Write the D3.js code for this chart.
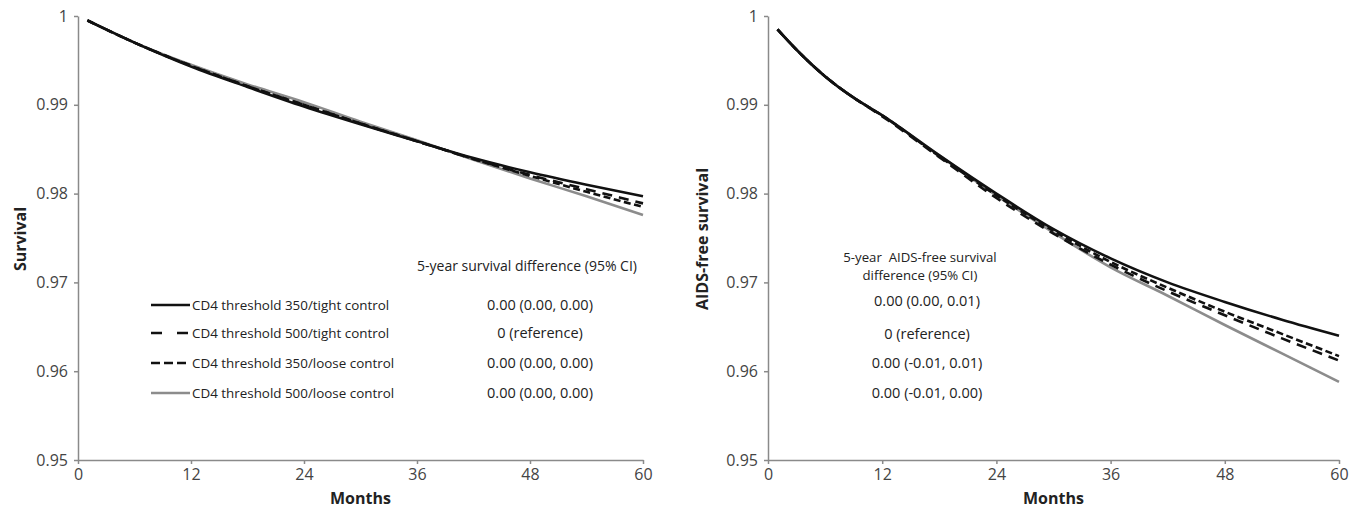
<!DOCTYPE html>
<html>
<head>
<meta charset="utf-8">
<script src="https://cdn.jsdelivr.net/npm/d3@7"></script>
<style>
  body { margin: 0; background: #fff; }
  svg { display: block; font-family: "Open Sans", sans-serif; }
  .axis path, .axis line { stroke: #8a8a8a; stroke-width: 1.5; }
  .axis text { fill: #444; font-size: 16px; font-family: "Open Sans", sans-serif; }
  .title { font-weight: bold; font-size: 16px; fill: #222; }
  .note { font-size: 13.4px; fill: #222; }
  .head { font-size: 14px; fill: #222; }
  .val { font-size: 14.5px; fill: #222; }
</style>
</head>
<body>
<div id="chart"></div>
<script>

// ---- data ----
var seriesNames = [
    "CD4 threshold 350/tight control",
    "CD4 threshold 500/tight control",
    "CD4 threshold 350/loose control",
    "CD4 threshold 500/loose control"
];

var yTicks = [0.95, 0.96, 0.97, 0.98, 0.99, 1];
var xTicks = [0, 12, 24, 36, 48, 60];

// left panel: overall survival
var survMonths = [1, 6, 12, 18, 24, 30, 36, 42, 48, 54, 60];
var surv350tight = [0.9995, 0.9970, 0.9943, 0.9920, 0.9898, 0.9878, 0.9859, 0.9840, 0.9824, 0.9810, 0.9797];
var surv500tight = [0.9995, 0.9970, 0.9944, 0.9921, 0.9900, 0.9879, 0.9859, 0.9839, 0.9821, 0.9805, 0.9789];
var surv350loose = [0.9995, 0.9970, 0.9944, 0.9921, 0.9900, 0.9879, 0.9859, 0.9839, 0.9820, 0.9802, 0.9785];
var surv500loose = [0.9995, 0.9970, 0.9945, 0.9923, 0.9903, 0.9881, 0.9860, 0.9838, 0.9817, 0.9797, 0.9776];

// right panel: AIDS-free survival
var afsMonths = [1, 3, 6, 9, 12, 18, 24, 30, 36, 42, 48, 54, 60];
var afs350tight = [0.9985, 0.9962, 0.9932, 0.9908, 0.9888, 0.9843, 0.9800, 0.9760, 0.9727, 0.9700, 0.9678, 0.9658, 0.9640];
var afs500tight = [0.9985, 0.9962, 0.9932, 0.9908, 0.9887, 0.9841, 0.9795, 0.9755, 0.9720, 0.9690, 0.9663, 0.9637, 0.9612];
var afs350loose = [0.9985, 0.9962, 0.9932, 0.9908, 0.9888, 0.9842, 0.9798, 0.9758, 0.9723, 0.9694, 0.9667, 0.9642, 0.9617];
var afs500loose = [0.9985, 0.9962, 0.9932, 0.9908, 0.9888, 0.9843, 0.9798, 0.9756, 0.9717, 0.9685, 0.9652, 0.9620, 0.9588];

var survDiffHeader = ["5-year survival difference (95% CI)"];
var survDiffs = ["0.00 (0.00, 0.00)", "0 (reference)", "0.00 (0.00, 0.00)", "0.00 (0.00, 0.00)"];
var afsDiffHeader = ["5-year  AIDS-free survival", "difference (95% CI)"];
var afsDiffs = ["0.00 (0.00, 0.01)", "0 (reference)", "0.00 (-0.01, 0.01)", "0.00 (-0.01, 0.00)"];

// line styles per series
var styles = [
    { color: "#111", dash: null, width: 2.6 },
    { color: "#111", dash: "10,7", width: 2.6 },
    { color: "#111", dash: "7,3.5", width: 2.6 },
    { color: "#8c8c8c", dash: null, width: 2.6 }
];
var legendDash = [null, "11,15", "9,4", null];

var width = 1362, height = 511;

var svg = d3.select("#chart").append("svg")
    .attr("width", width)
    .attr("height", height);

var y = d3.scaleLinear()
    .domain([0.95, 1])
    .range([460, 16]);

function drawPanel(left, right, months, series, yTitle, titleOffset) {
    var x = d3.scaleLinear().domain([0, 60]).range([left, right]);

    var xAxis = d3.axisBottom(x)
        .tickValues(xTicks)
        .tickSizeInner(4)
        .tickSizeOuter(0)
        .tickPadding(5);
    var yAxis = d3.axisLeft(y)
        .tickValues(yTicks)
        .tickSizeInner(4)
        .tickSizeOuter(0)
        .tickPadding(6)
        .tickFormat(function(d) { return d === 1 ? "1" : d3.format(".2f")(d); });

    svg.append("g")
        .attr("class", "axis")
        .attr("transform", "translate(0," + y(0.95) + ")")
        .call(xAxis);
    svg.append("g")
        .attr("class", "axis")
        .attr("transform", "translate(" + left + ",0)")
        .call(yAxis);

    var line = d3.line()
        .curve(d3.curveMonotoneX)
        .x(function(d) { return x(d[0]); })
        .y(function(d) { return y(d[1]); });

    // grey first, then dashed, then solid on top
    [3, 2, 1, 0].forEach(function(i) {
        var pts = months.map(function(m, j) { return [m, series[i][j]]; });
        svg.append("path")
            .datum(pts)
            .attr("fill", "none")
            .attr("stroke", styles[i].color)
            .attr("stroke-width", styles[i].width)
            .attr("stroke-dasharray", styles[i].dash)
            .attr("d", line);
    });

    svg.append("text")
        .attr("class", "title")
        .attr("x", (left + right) / 2)
        .attr("y", 504)
        .attr("text-anchor", "middle")
        .text("Months");

    svg.append("text")
        .attr("class", "title")
        .attr("transform", "translate(" + (left - titleOffset) + "," + 239 + ") rotate(-90)")
        .attr("text-anchor", "middle")
        .text(yTitle);

    return x;
}

drawPanel(78, 643, survMonths, [surv350tight, surv500tight, surv350loose, surv500loose], "Survival", 52);
drawPanel(768, 1339, afsMonths, [afs350tight, afs500tight, afs350loose, afs500loose], "AIDS-free survival", 60);

// legend in left panel
var rowY = [305, 333, 363, 393];
seriesNames.forEach(function(name, i) {
    svg.append("line")
        .attr("x1", 151).attr("x2", 190)
        .attr("y1", rowY[i]).attr("y2", rowY[i])
        .attr("stroke", styles[i].color)
        .attr("stroke-width", styles[i].width)
        .attr("stroke-dasharray", legendDash[i]);
    svg.append("text")
        .attr("class", "note")
        .attr("x", 192)
        .attr("y", rowY[i])
        .attr("dy", "0.35em")
        .text(name);
});

// survival differences, left panel
svg.selectAll(".surv-head")
    .data(survDiffHeader)
    .enter().append("text")
    .attr("class", "head")
    .attr("x", 527)
    .attr("y", 266)
    .attr("dy", "0.35em")
    .attr("text-anchor", "middle")
    .text(function(d) { return d; });

svg.selectAll(".surv-diff")
    .data(survDiffs)
    .enter().append("text")
    .attr("class", "val")
    .attr("x", 540)
    .attr("y", function(d, i) { return rowY[i]; })
    .attr("dy", "0.35em")
    .attr("text-anchor", "middle")
    .text(function(d) { return d; });

// AIDS-free survival differences, right panel
var afsHeadY = [257, 275];
var afsRowY = [301, 334, 363, 393];

svg.selectAll(".afs-head")
    .data(afsDiffHeader)
    .enter().append("text")
    .attr("class", "head")
    .attr("x", 920)
    .attr("y", function(d, i) { return afsHeadY[i]; })
    .attr("dy", "0.35em")
    .attr("text-anchor", "middle")
    .style("white-space", "pre")
    .style("font-size", "13.2px")
    .text(function(d) { return d; });

svg.selectAll(".afs-diff")
    .data(afsDiffs)
    .enter().append("text")
    .attr("class", "val")
    .attr("x", 927)
    .attr("y", function(d, i) { return afsRowY[i]; })
    .attr("dy", "0.35em")
    .attr("text-anchor", "middle")
    .text(function(d) { return d; });

</script>
</body>
</html>
